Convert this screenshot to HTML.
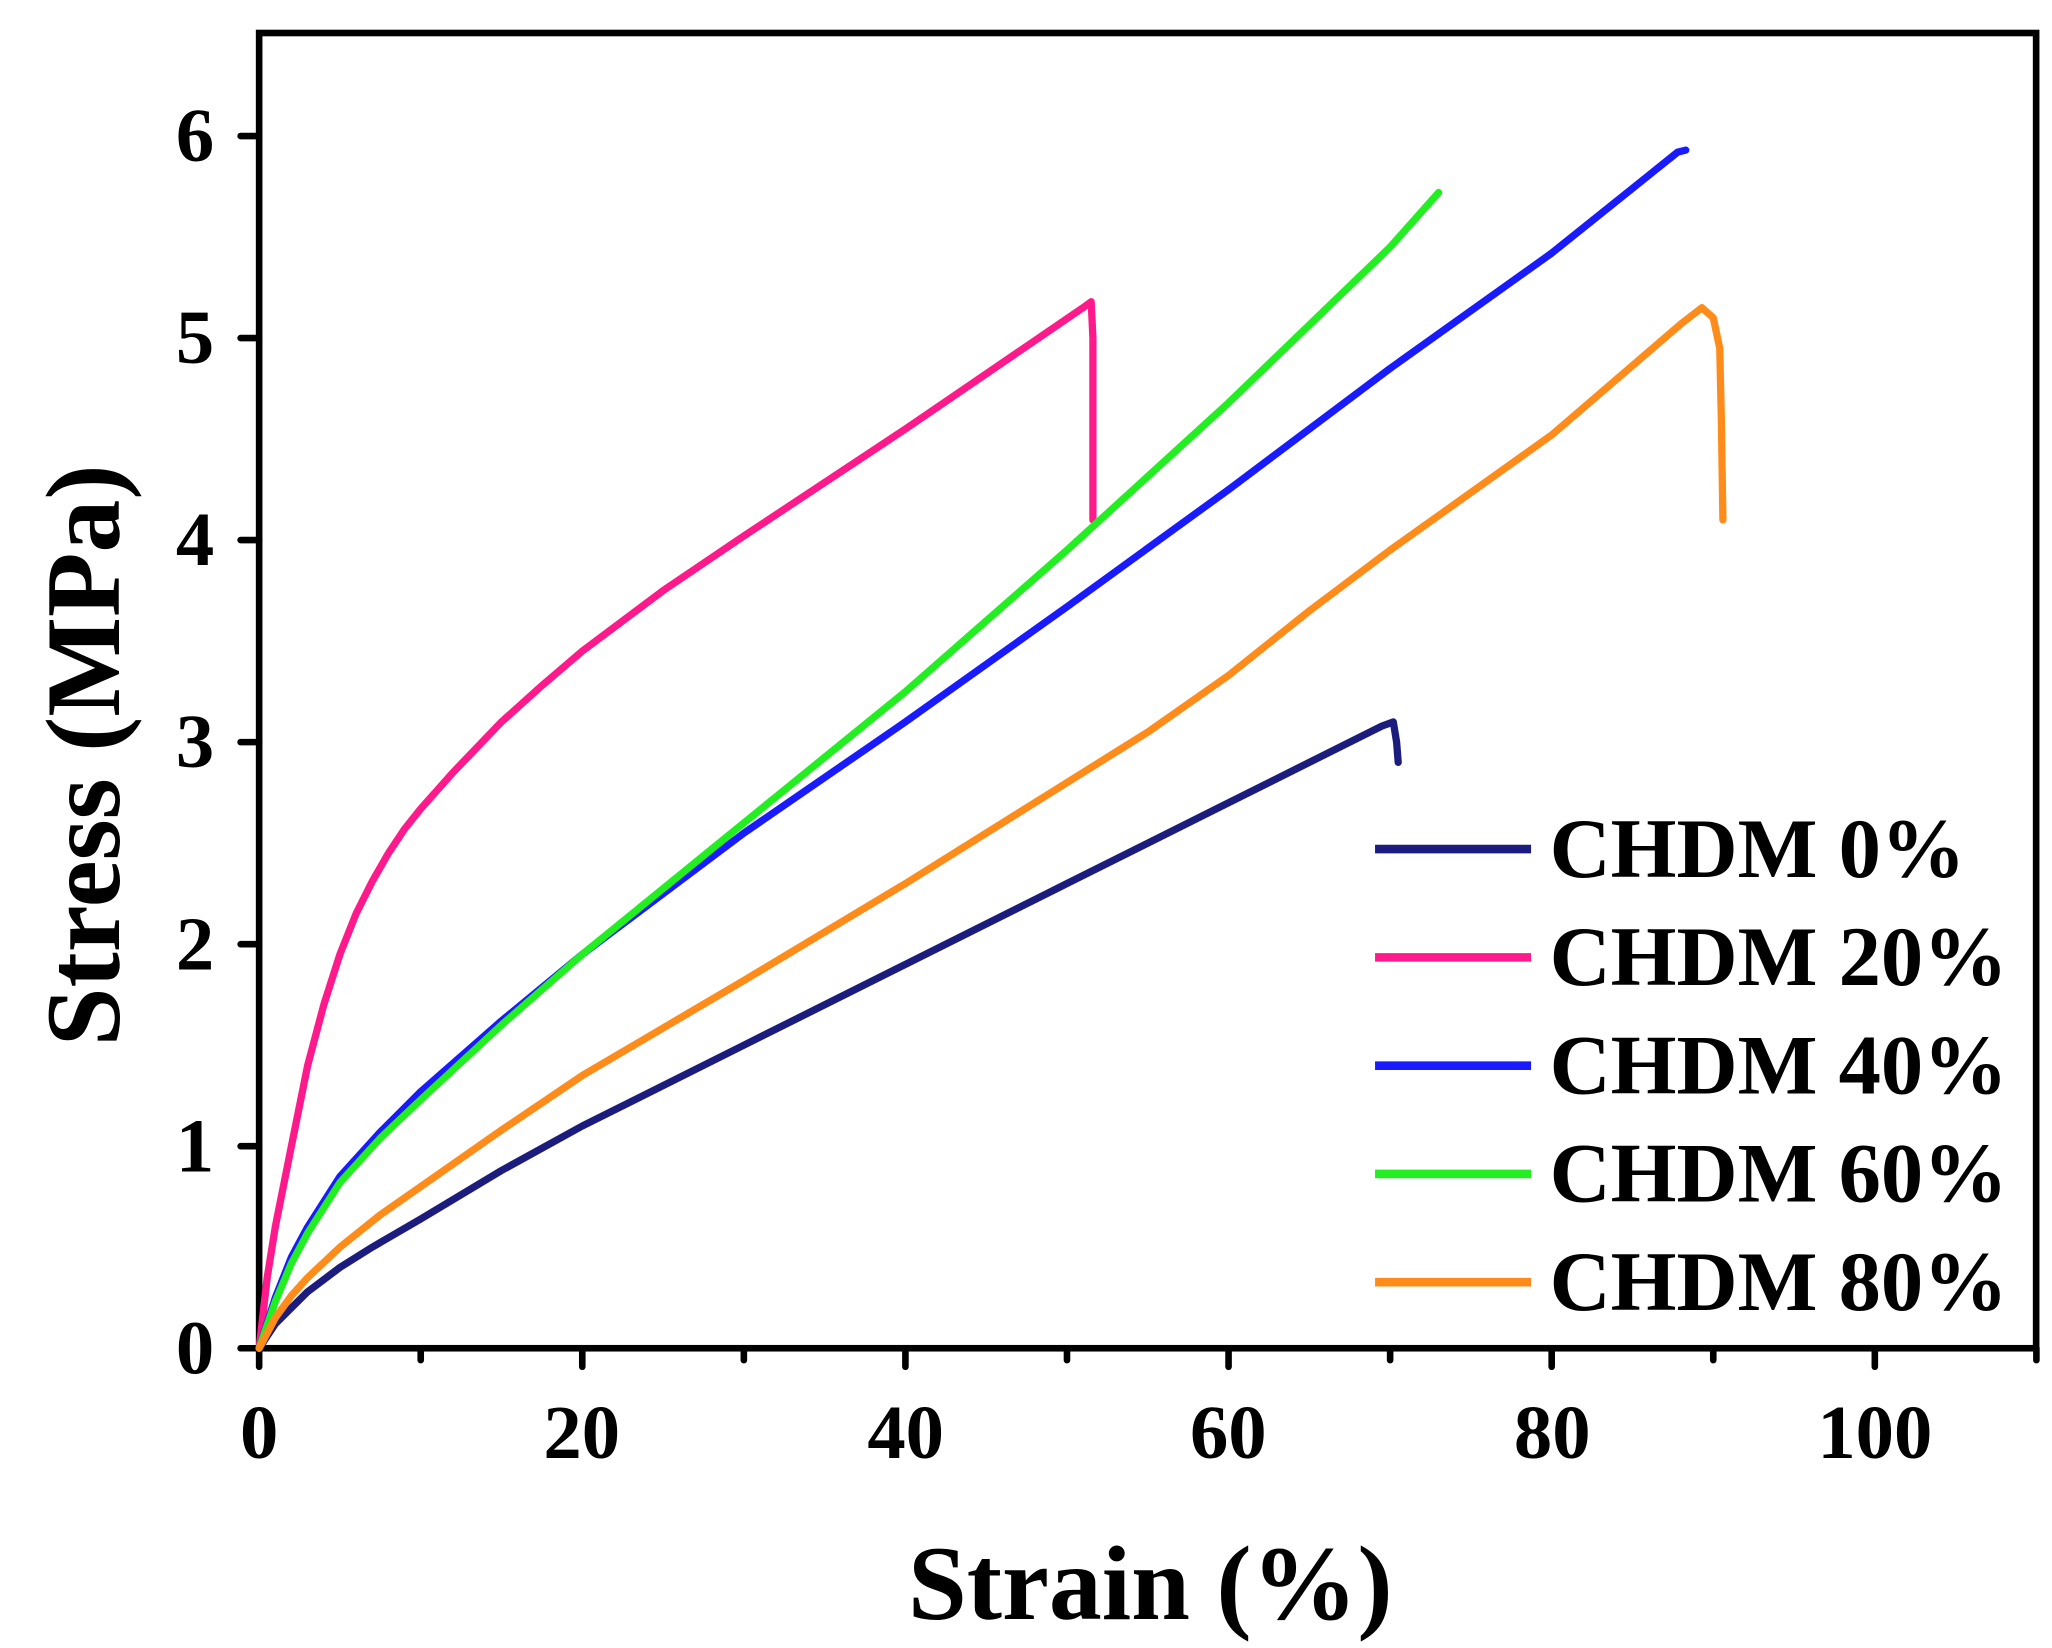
<!DOCTYPE html>
<html><head><meta charset="utf-8"><style>
html,body{margin:0;padding:0;background:#fff}
svg{display:block}
text{font-family:"Liberation Serif",serif;font-weight:bold;fill:#000}
</style></head><body>
<svg id="s" width="2052" height="1648" viewBox="0 0 1552 1248" preserveAspectRatio="none" xmlns="http://www.w3.org/2000/svg">
<rect x="196" y="25" width="1344" height="996" fill="none" stroke="#000" stroke-width="5"/>
<g id="ticks" stroke="#000" stroke-width="5" stroke-linecap="round"></g>
<g id="curves" fill="none" stroke-width="5.5" stroke-linejoin="round" stroke-linecap="round"></g>
<g font-size="58" text-anchor="middle">
<text x="196" y="1104">0</text><text x="440" y="1104">20</text><text x="685" y="1104">40</text>
<text x="929" y="1104">60</text><text x="1174" y="1104">80</text><text x="1418" y="1104">100</text>
</g>
<g font-size="58" text-anchor="end">
<text x="162" y="1040">0</text><text x="162" y="887">1</text><text x="162" y="734">2</text>
<text x="162" y="581">3</text><text x="162" y="428">4</text><text x="162" y="275">5</text><text x="162" y="122">6</text>
</g>
<text x="870" y="1226" font-size="80" text-anchor="middle">Strain (%)</text>
<text transform="translate(90,572) rotate(-90)" font-size="80" text-anchor="middle">Stress (MPa)</text>
<g stroke-width="6.5">
<line x1="1040" y1="643" x2="1158" y2="643" stroke="#1c1c7e"/>
<line x1="1040" y1="725" x2="1158" y2="725" stroke="#ff1a8c"/>
<line x1="1040" y1="807" x2="1158" y2="807" stroke="#1a1aff"/>
<line x1="1040" y1="889" x2="1158" y2="889" stroke="#22ee22"/>
<line x1="1040" y1="971" x2="1158" y2="971" stroke="#ff8c1a"/>
</g>
<g font-size="64">
<text x="1172" y="664">CHDM 0%</text><text x="1172" y="746">CHDM 20%</text>
<text x="1172" y="828">CHDM 40%</text><text x="1172" y="910">CHDM 60%</text><text x="1172" y="992">CHDM 80%</text>
</g>
</svg>
<script>
var NS="http://www.w3.org/2000/svg";
function X(x){return 196+12.22*x}function Y(y){return 1021-153*y}
var t=document.getElementById('ticks'),h='';
for(var i=0;i<=110;i+=10){var L=(i%20==0)?14:9;h+='<line x1="'+X(i)+'" y1="1021" x2="'+X(i)+'" y2="'+(1021+L)+'"/>';}
for(var j=0;j<=6;j++){h+='<line x1="182" y1="'+Y(j)+'" x2="196" y2="'+Y(j)+'"/>';}
t.innerHTML=h;
var data=[
["#1c1c7e",[[0,0],[1,0.12],[2,0.2],[3,0.28],[5,0.4],[7,0.5],[10,0.64],[15,0.88],[20,1.1],[30,1.5],[40,1.9],[50,2.3],[60,2.7],[69.5,3.08],[70.2,3.1],[70.4,3.0],[70.5,2.9]]],
["#ff1a8c",[[0,0],[0.5,0.35],[1,0.6],[2,1.0],[3,1.4],[4,1.7],[5,1.95],[6,2.15],[7,2.31],[8,2.45],[9,2.57],[10,2.67],[12,2.85],[15,3.1],[17.5,3.28],[20,3.45],[25,3.75],[30,4.02],[40,4.55],[51,5.15],[51.5,5.18],[51.6,5.0],[51.6,4.1]]],
["#1a1aff",[[0,0],[1,0.25],[2,0.45],[3,0.6],[5,0.85],[7.5,1.07],[10,1.27],[15,1.62],[20,1.95],[30,2.55],[40,3.1],[50,3.67],[60,4.25],[70,4.85],[80,5.42],[87.8,5.92],[88.3,5.93]]],
["#22ee22",[[0,0],[1,0.23],[2,0.42],[3,0.57],[5,0.82],[7.5,1.04],[10,1.23],[15,1.6],[20,1.95],[30,2.6],[40,3.25],[50,3.95],[60,4.68],[70,5.45],[73,5.72]]],
["#ff8c1a",[[0,0],[1,0.15],[2,0.26],[3,0.35],[5,0.5],[7.5,0.66],[10,0.8],[15,1.08],[20,1.35],[30,1.82],[40,2.3],[50,2.8],[55,3.05],[60,3.33],[65,3.65],[70,3.95],[80,4.52],[88,5.07],[89.3,5.15],[90,5.1],[90.4,4.95],[90.5,4.6],[90.6,4.1]]]
];
var c=document.getElementById('curves');
data.forEach(function(d){var p=document.createElementNS(NS,'path');
p.setAttribute('d','M'+d[1].map(function(q){return X(q[0]).toFixed(1)+','+Y(q[1]).toFixed(1)}).join('L'));
p.setAttribute('stroke',d[0]);c.appendChild(p);});
</script>
</body></html>
